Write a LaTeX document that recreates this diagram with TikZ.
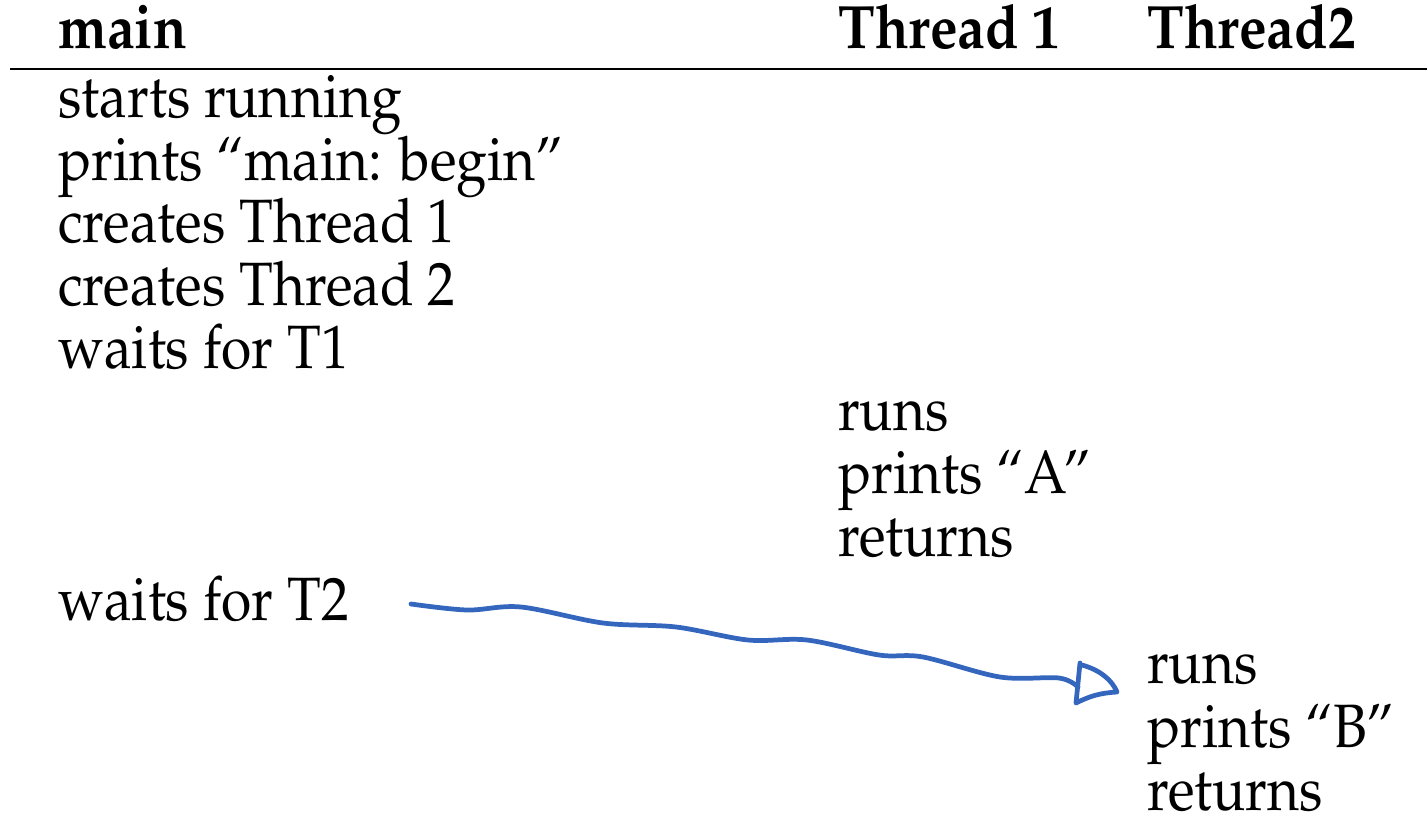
\documentclass[tikz,border=0pt]{standalone}
\usepackage[T1]{fontenc}
\renewcommand{\rmdefault}{ppl}
\newcommand{\tallbox}[1]{\scalebox{1}[1.11]{#1}}
\begin{document}
\begin{tikzpicture}[x=0.02cm,y=0.02cm,
  txt/.style={anchor=base west,inner sep=0pt,font=\fontsize{31.4}{36}\selectfont},
  hdr/.style={txt,font=\fontsize{31.4}{36}\selectfont\bfseries},
  hand/.style={draw={rgb,255:red,52;green,102;blue,190},line width=2.7pt,line cap=round,line join=round}]
\useasboundingbox (0,0) rectangle (1427,-812);
\node[hdr] (h1) at (58,-48) {\tallbox{main}};
\node[hdr] (h2) at (838,-48) {\tallbox{Thread 1}};
\node[hdr] (h3) at (1147,-48) {\tallbox{Thread2}};
\draw[line width=1.7pt] (10,-69) -- (1427,-69);
\node[txt] (m1) at (58,-117) {\tallbox{starts running}};
\node[txt] (m2) at (58,-180) {\tallbox{prints ``main: begin''}};
\node[txt] (m3) at (58,-242) {\tallbox{creates Thread 1}};
\node[txt] (m4) at (58,-305) {\tallbox{creates Thread 2}};
\node[txt] (m5) at (58,-368) {\tallbox{waits for T1}};
\node[txt] (a1) at (838,-430) {\tallbox{runs}};
\node[txt] (a2) at (838,-493) {\tallbox{prints ``A''}};
\node[txt] (a3) at (838,-556) {\tallbox{returns}};
\node[txt] (m6) at (58,-620) {\tallbox{waits for T2}};
\node[txt] (b1) at (1147,-683) {\tallbox{runs}};
\node[txt] (b2) at (1147,-747) {\tallbox{prints ``B''}};
\node[txt] (b3) at (1147,-810) {\tallbox{returns}};
\coordinate (as) at (411,-604);
\coordinate (ae) at (1078,-687);
\draw[hand] plot[smooth,tension=0.55] coordinates {(as) (467,-610) (521,-607) (603,-623) (676,-627) (748,-640) (807,-640) (879,-655) (923,-657) (1000,-677) (1059,-678) (ae)};
\draw[hand] (1080,-663) -- (1076,-703) .. controls (1090,-696) and (1100,-693) .. (1117,-692) .. controls (1112,-680) and (1100,-670) .. (1082,-665);
\end{tikzpicture}
\end{document}
